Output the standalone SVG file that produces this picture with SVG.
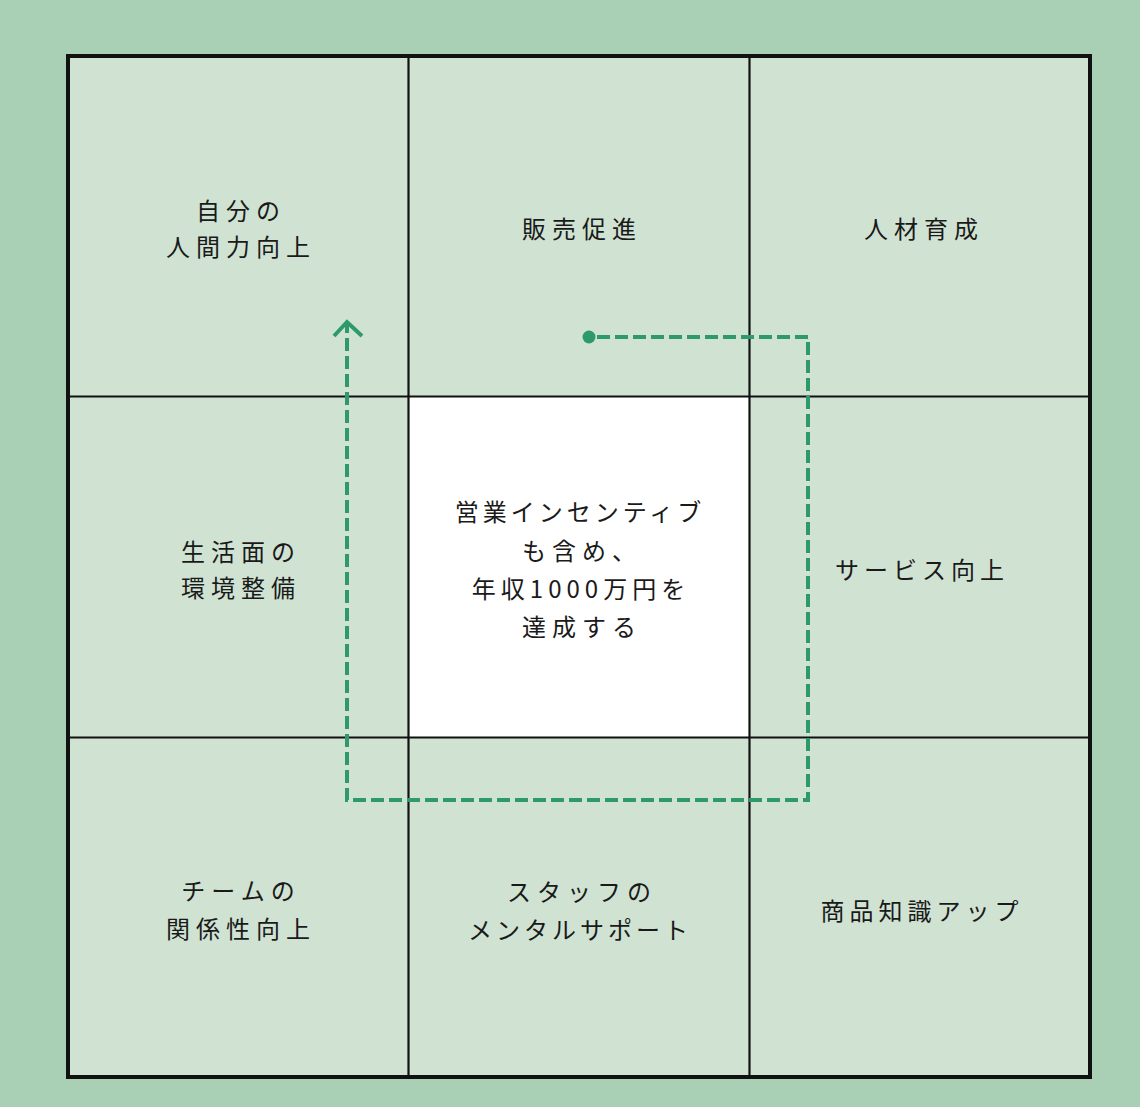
<svg xmlns="http://www.w3.org/2000/svg" width="1140" height="1107" viewBox="0 0 1140 1107">
<style>
.t{font-family:"Noto Sans CJK JP","Noto Sans",sans-serif;font-size:24px;font-weight:400;fill:#1a1a1a;text-anchor:middle;dominant-baseline:central;letter-spacing:6px}
.cell{fill:#d0e3d3}
.ln{stroke:#111;stroke-width:2.2;fill:none}
.dash{stroke:#2e9a6a;stroke-width:4;fill:none;stroke-dasharray:13 5}
</style>
<rect width="1140" height="1107" fill="#a9cfb5"/>
<rect x="68" y="56" width="1022" height="1021" class="cell"/>
<rect x="409" y="397" width="340" height="340" fill="#ffffff"/>
<g id="grid">
<line x1="408.5" y1="56" x2="408.5" y2="1077" class="ln"/>
<line x1="749.5" y1="56" x2="749.5" y2="1077" class="ln"/>
<line x1="68" y1="396.5" x2="1090" y2="396.5" class="ln"/>
<line x1="68" y1="737.5" x2="1090" y2="737.5" class="ln"/>
<rect x="68" y="56" width="1022" height="1021" fill="none" stroke="#111" stroke-width="4"/>
</g>
<g id="n1"><text class="t" x="241" y="209">自分の</text><text class="t" x="241" y="245">人間力向上</text></g>
<g id="n2"><text class="t" x="582" y="227">販売促進</text></g>
<g id="n3"><text class="t" x="924" y="227">人材育成</text></g>
<g id="n4"><text class="t" x="241" y="550">生活面の</text><text class="t" x="241" y="586">環境整備</text></g>
<g id="n5"><text class="t" x="580" y="510" style="letter-spacing:4px">営業インセンティブ</text><text class="t" x="582" y="549">も含め、</text><text class="t" x="581" y="587" style="letter-spacing:5px">年収1000万円を</text><text class="t" x="582" y="625">達成する</text></g>
<g id="n6"><text class="t" x="922" y="568" style="letter-spacing:5px">サービス向上</text></g>
<g id="n7"><text class="t" x="241" y="889">チームの</text><text class="t" x="241" y="927">関係性向上</text></g>
<g id="n8"><text class="t" x="582" y="890">スタッフの</text><text class="t" x="580" y="928" style="letter-spacing:4px">メンタルサポート</text></g>
<g id="n9"><text class="t" x="922" y="909" style="letter-spacing:5px">商品知識アップ</text></g>
<g id="connectors">
<circle cx="589" cy="337" r="6.5" fill="#2e9a6a"/>
<path class="dash" d="M597 337 H808 V800 H347 V324"/>
<path d="M334 336 L347 322 L362 336" fill="none" stroke="#2e9a6a" stroke-width="4"/>
</g>
</svg>
